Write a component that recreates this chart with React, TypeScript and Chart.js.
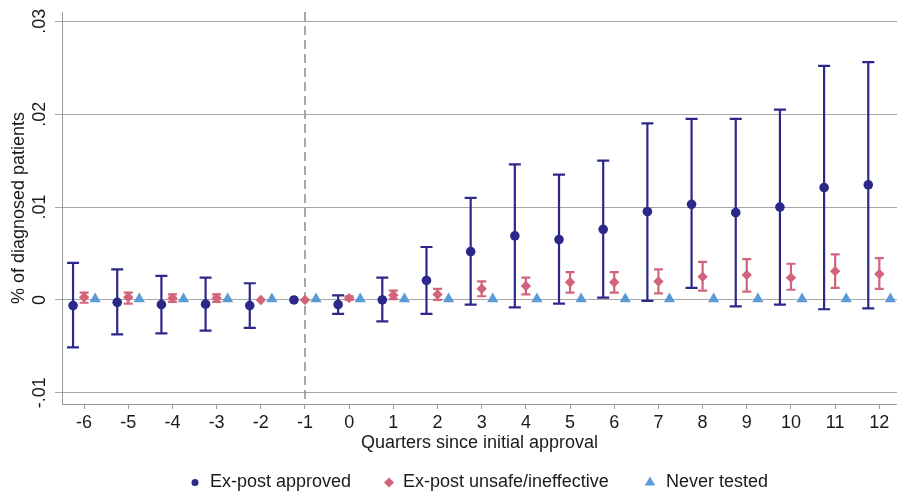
import React, { useEffect, useRef } from "react";
import { Chart, registerables } from "chart.js";
Chart.register(...registerables);

const quarters = [-6, -5, -4, -3, -2, -1, 0, 1, 2, 3, 4, 5, 6, 7, 8, 9, 10, 11, 12];

const approvedEst = [-0.0006, -0.00025, -0.0005, -0.00045, -0.0006, 0, -0.0005, 0.0, 0.0021, 0.0052, 0.0069, 0.0065, 0.0076, 0.0095, 0.0103, 0.0094, 0.0100, 0.0121, 0.0124];
const approvedLo = [-0.0051, -0.0037, -0.0036, -0.0033, -0.0030, null, -0.0015, -0.0023, -0.0015, -0.0005, -0.0008, -0.0004, 0.00025, -0.0001, 0.0013, -0.0007, -0.0005, -0.0010, -0.0009];
const approvedHi = [0.0040, 0.0033, 0.0026, 0.0024, 0.0018, null, 0.0005, 0.0024, 0.0057, 0.0110, 0.0146, 0.0135, 0.0150, 0.0190, 0.0195, 0.0195, 0.0205, 0.0252, 0.0256];

const unsafeEst = [0.0003, 0.0003, 0.0002, 0.0002, 0.0, 0.0, 0.0002, 0.0005, 0.0006, 0.0012, 0.0015, 0.0019, 0.0019, 0.0020, 0.0025, 0.0027, 0.0024, 0.0031, 0.0028];
const unsafeLo = [-0.0003, -0.0004, -0.0002, -0.0002, null, null, 0.0, 0.0001, 0.0, 0.0004, 0.0006, 0.0008, 0.0008, 0.0007, 0.0010, 0.0009, 0.0011, 0.0013, 0.0012];
const unsafeHi = [0.0008, 0.0008, 0.0006, 0.0006, null, null, 0.0004, 0.0010, 0.0012, 0.0020, 0.0024, 0.0030, 0.0030, 0.0033, 0.0041, 0.0044, 0.0039, 0.0049, 0.0045];

const neverEst = [0.0001, 0.0001, 0.0001, 0.0001, 0.0001, 0.0001, 0.0001, 0.0001, 0.0001, 0.0001, 0.0001, 0.0001, 0.0001, 0.0001, 0.0001, 0.0001, 0.0001, 0.0001, 0.0001];

const yTicks = [-0.01, 0, 0.01, 0.02, 0.03];
const yTickLabels = ["-.01", "0", ".01", ".02", ".03"];
const seriesNames = ["Ex-post approved", "Ex-post unsafe/ineffective", "Never tested"];
const xTitle = "Quarters since initial approval";
const yTitle = "% of diagnosed patients";
const refLineX = -1;

const NAVY = "#2c2889";
const PINK = "#d1637a";
const LBLUE = "#5b9bd5";
const FONT = "'Liberation Sans', Arial, Helvetica, sans-serif";
const FS = 18;

export default function App() {
  const ref = useRef<HTMLCanvasElement | null>(null);
  useEffect(() => {
    if (!ref.current) return;
    const bars = [
      { est: approvedEst, lo: approvedLo, hi: approvedHi, off: -0.25, color: NAVY, cap: 6, w: 2.2 },
      { est: unsafeEst, lo: unsafeLo, hi: unsafeHi, off: 0, color: PINK, cap: 4.5, w: 2.2 },
    ];
    const decor = {
      id: "decor",
      beforeDatasetsDraw(chart: any) {
        const ctx = chart.ctx;
        const xs = chart.scales.x;
        const ys = chart.scales.y;
        const ca = chart.chartArea;
        ctx.save();
        const rx = xs.getPixelForValue(refLineX);
        ctx.strokeStyle = "#8c8c8c";
        ctx.lineWidth = 1.5;
        ctx.setLineDash([9, 5]);
        ctx.beginPath();
        ctx.moveTo(rx, ca.top);
        ctx.lineTo(rx, ca.bottom);
        ctx.stroke();
        ctx.setLineDash([]);
        bars.forEach((b) => {
          ctx.strokeStyle = b.color;
          ctx.lineWidth = b.w;
          quarters.forEach((q, i) => {
            const lo = b.lo[i];
            const hi = b.hi[i];
            if (lo == null || hi == null) return;
            const x = xs.getPixelForValue(q + b.off);
            const y1 = ys.getPixelForValue(lo);
            const y2 = ys.getPixelForValue(hi);
            ctx.beginPath();
            ctx.moveTo(x, y1);
            ctx.lineTo(x, y2);
            ctx.moveTo(x - b.cap, y1);
            ctx.lineTo(x + b.cap, y1);
            ctx.moveTo(x - b.cap, y2);
            ctx.lineTo(x + b.cap, y2);
            ctx.stroke();
          });
        });
        ctx.restore();
      },
      afterDraw(chart: any) {
        const ctx = chart.ctx;
        const ys = chart.scales.y;
        const ca = chart.chartArea;
        ctx.save();
        ctx.fillStyle = "#1a1a1a";
        ctx.font = `${FS}px ${FONT}`;
        ctx.textAlign = "center";
        ctx.textBaseline = "middle";
        yTicks.forEach((v, i) => {
          const y = ys.getPixelForValue(v);
          ctx.save();
          ctx.translate(40, y);
          ctx.rotate(-Math.PI / 2);
          ctx.fillText(yTickLabels[i], 0, 0);
          ctx.restore();
        });
        ctx.save();
        ctx.translate(19, (ca.top + ca.bottom) / 2);
        ctx.rotate(-Math.PI / 2);
        ctx.fillText(yTitle, 0, 0);
        ctx.restore();
        ctx.fillText(xTitle, (ca.left + ca.right) / 2, 443);
        const ly = 482.5;
        ctx.textAlign = "left";
        const items = [
          { x: 195, style: "circle", r: 3.5, color: NAVY, tx: 210 },
          { x: 389, style: "rectRot", r: 5, color: PINK, tx: 403 },
          { x: 650, style: "triangle", r: 6, color: LBLUE, tx: 666 },
        ];
        items.forEach((it, i) => {
          ctx.fillStyle = it.color;
          ctx.beginPath();
          if (it.style === "circle") {
            ctx.arc(it.x, ly, it.r, 0, Math.PI * 2);
          } else if (it.style === "rectRot") {
            ctx.moveTo(it.x, ly - it.r);
            ctx.lineTo(it.x + it.r, ly);
            ctx.lineTo(it.x, ly + it.r);
            ctx.lineTo(it.x - it.r, ly);
            ctx.closePath();
          } else {
            ctx.moveTo(it.x, ly - it.r);
            ctx.lineTo(it.x + it.r * 0.87, ly + it.r * 0.5);
            ctx.lineTo(it.x - it.r * 0.87, ly + it.r * 0.5);
            ctx.closePath();
          }
          ctx.fill();
          ctx.fillStyle = "#1a1a1a";
          ctx.fillText(seriesNames[i], it.tx, ly);
        });
        ctx.restore();
      },
    };

    const chart = new Chart(ref.current, {
      type: "scatter",
      data: {
        datasets: [
          {
            label: seriesNames[0],
            data: quarters.map((q, i) => ({ x: q - 0.25, y: approvedEst[i] })),
            pointStyle: "circle",
            pointRadius: 4.8,
            backgroundColor: NAVY,
            borderColor: NAVY,
            borderWidth: 0,
          },
          {
            label: seriesNames[1],
            data: quarters.map((q, i) => ({ x: q, y: unsafeEst[i] })),
            pointStyle: "rectRot",
            pointRadius: 5.2,
            backgroundColor: PINK,
            borderColor: PINK,
            borderWidth: 0,
          },
          {
            label: seriesNames[2],
            data: quarters.map((q, i) => ({ x: q + 0.25, y: neverEst[i] })),
            pointStyle: "triangle",
            pointRadius: 6.5,
            backgroundColor: LBLUE,
            borderColor: LBLUE,
            borderWidth: 0,
          },
        ],
      },
      options: {
        responsive: false,
        animation: false,
        devicePixelRatio: 1,
        layout: { autoPadding: false, padding: { top: 12, right: 0, left: 0, bottom: 0 } },
        plugins: { legend: { display: false }, tooltip: { enabled: false } },
        scales: {
          x: {
            type: "linear",
            min: -6.5,
            max: 12.4,
            afterBuildTicks: (s: any) => {
              s.ticks = quarters.map((v) => ({ value: v }));
            },
            afterFit: (s: any) => {
              s.height = 89;
              s.paddingLeft = 0;
              s.paddingRight = 0;
            },
            ticks: {
              autoSkip: false,
              maxRotation: 0,
              minRotation: 0,
              padding: 3,
              color: "#1a1a1a",
              font: { family: FONT, size: FS },
              callback: (v: any) => String(v),
            },
            grid: { drawOnChartArea: false, drawTicks: true, tickLength: 5, color: "#9a9a9a", lineWidth: 1 },
            border: { display: true, color: "#9a9a9a", width: 1 },
          },
          y: {
            type: "linear",
            min: -0.0112,
            max: 0.031,
            afterBuildTicks: (s: any) => {
              s.ticks = yTicks.map((v) => ({ value: v }));
            },
            afterFit: (s: any) => {
              s.width = 62;
              s.paddingTop = 0;
              s.paddingBottom = 0;
            },
            ticks: { display: false },
            grid: { color: "#a6a6a6", lineWidth: 1, drawTicks: true, tickLength: 7 },
            border: { display: true, color: "#9a9a9a", width: 1 },
          },
        },
      },
      plugins: [decor],
    } as any);
    return () => chart.destroy();
  }, []);

  return (
    <div style={{ position: "fixed", left: 0, top: 0, width: 897, height: 493, background: "#fff" }}>
      <canvas ref={ref} width={897} height={493} style={{ display: "block", width: 897, height: 493 }} />
    </div>
  );
}
